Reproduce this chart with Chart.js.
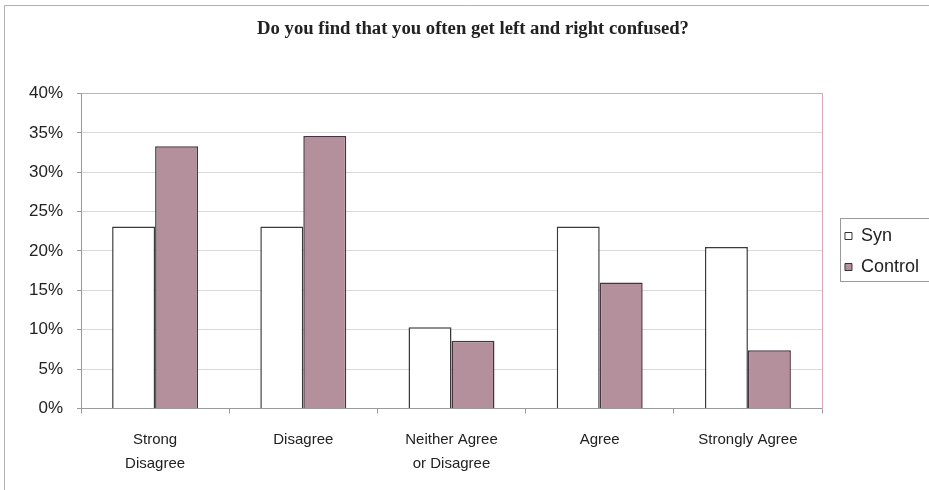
<!DOCTYPE html>
<html>
<head>
<meta charset="utf-8">
<script src="https://cdn.jsdelivr.net/npm/chart.js@4/dist/chart.umd.min.js"></script>
<style>
html,body{margin:0;padding:0;background:#fff;}
#wrap{position:relative;width:929px;height:490px;}
</style>
</head>
<body>
<div id="wrap"><canvas id="c" width="929" height="490"></canvas></div>
<script>
const titleText = 'Do you find that you often get left and right confused?';
const categories = [['Strong', 'Disagree'], 'Disagree', ['Neither Agree', 'or Disagree'], 'Agree', 'Strongly Agree'];
const seriesNames = ['Syn', 'Control'];
const synValues = [0.231, 0.231, 0.103, 0.231, 0.205];
const controlValues = [0.333, 0.346, 0.086, 0.160, 0.074];

const PAD_LEFT = 17;
const PLOT_LEFT = 81;
const PLOT_RIGHT = 822;

const frame = {
  id: 'frame',
  beforeDraw(chart) {
    const ctx = chart.ctx;
    ctx.save();
    ctx.fillStyle = '#fff';
    ctx.fillRect(0, 0, chart.width, chart.height);
    ctx.strokeStyle = '#b0b0b0';
    ctx.lineWidth = 1;
    ctx.beginPath();
    ctx.moveTo(4.5, chart.height);
    ctx.lineTo(4.5, 5.5);
    ctx.lineTo(chart.width, 5.5);
    ctx.stroke();
    ctx.restore();
  },
  afterDatasetsDraw(chart) {
    const a = chart.chartArea;
    const ctx = chart.ctx;
    ctx.save();
    ctx.strokeStyle = '#dba3b3';
    ctx.lineWidth = 1;
    ctx.beginPath();
    ctx.moveTo(Math.round(a.left) + 0.5, Math.round(a.top) + 0.5);
    ctx.lineTo(Math.round(a.right) + 0.5, Math.round(a.top) + 0.5);
    ctx.lineTo(Math.round(a.right) + 0.5, Math.round(a.bottom) + 0.5);
    ctx.stroke();
    const lg = chart.legend;
    if (lg && lg.legendHitBoxes && lg.legendHitBoxes.length) {
      const hb = lg.legendHitBoxes;
      const first = hb[0], last = hb[hb.length - 1];
      const top = Math.round(first.top) - 9;
      const bottom = Math.round(last.top + last.height) + 5;
      const left = Math.round(first.left) - 5;
      ctx.strokeStyle = '#9a9a9a';
      ctx.strokeRect(left + 0.5, top + 0.5, chart.width - left + 5, bottom - top);
    }
    ctx.restore();
  }
};

new Chart(document.getElementById('c'), {
  type: 'bar',
  data: {
    labels: categories,
    datasets: [
      { label: seriesNames[0], data: synValues, backgroundColor: '#ffffff', borderColor: '#3a3a3a', borderWidth: 1.5 },
      { label: seriesNames[1], data: controlValues, backgroundColor: '#b3909c', borderColor: '#4a3340', borderWidth: 1.5 }
    ]
  },
  options: {
    responsive: false,
    animation: false,
    layout: { padding: { left: PAD_LEFT, right: 0, top: 0, bottom: 0 } },
    datasets: { bar: { categoryPercentage: 0.58, barPercentage: 1.0 } },
    plugins: {
      title: {
        display: true,
        text: titleText,
        color: '#222',
        font: { family: 'Liberation Serif', size: 18.7, weight: 'bold', lineHeight: 1.2 },
        padding: { top: 18, bottom: 53 }
      },
      legend: {
        position: 'right',
        align: 'center',
        title: { display: true, text: ' ', font: { size: 10, lineHeight: 1.2 }, padding: { top: 1, bottom: 0 } },
        labels: {
          boxWidth: 7,
          boxHeight: 7,
          color: '#222',
          font: { family: 'Liberation Sans', size: 18 },
          padding: 13,
          generateLabels(chart) {
            return chart.data.datasets.map((d, i) => ({
              text: d.label,
              fillStyle: d.backgroundColor,
              strokeStyle: '#333',
              lineWidth: 1,
              datasetIndex: i,
              fontColor: '#222'
            }));
          }
        }
      },
      tooltip: { enabled: false }
    },
    scales: {
      x: {
        grid: { display: true, drawOnChartArea: false, offset: true, color: '#999', tickLength: 5 },
        border: { color: '#999' },
        ticks: { color: '#222', font: { family: 'Liberation Sans', size: 15, lineHeight: 1.65 }, padding: 13.5, maxRotation: 0 }
      },
      y: {
        min: 0, max: 0.4,
        afterFit(s) { s.width = PLOT_LEFT - PAD_LEFT; },
        grid: { color: '#d9d9d9', tickLength: 4, tickColor: '#999' },
        border: { color: '#999' },
        ticks: {
          stepSize: 0.05,
          color: '#222',
          font: { family: 'Liberation Sans', size: 17 },
          padding: 14,
          callback: v => Math.round(v * 100) + '%'
        }
      },
      yR: {
        position: 'right',
        display: true,
        afterFit(s) {
          const lg = s.chart.legend;
          const lw = lg && lg.width ? lg.width : 95;
          s.width = Math.max(0, s.chart.width - lw - PLOT_RIGHT);
        },
        grid: { display: false },
        border: { display: false },
        ticks: { display: false }
      }
    }
  },
  plugins: [frame]
});
</script>
</body>
</html>
